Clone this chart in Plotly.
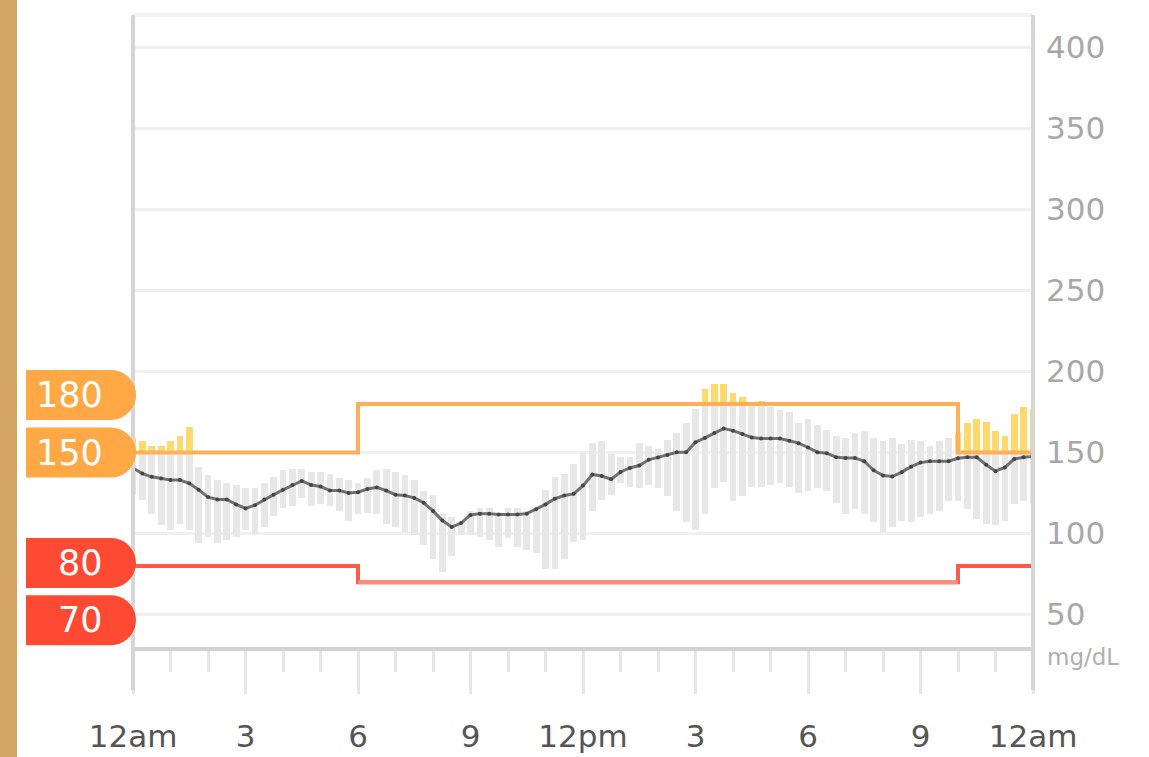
import numpy as np
import plotly.graph_objects as go

# ---------------- data ----------------
# 15-minute slots over one day (hours from midnight)
slot_hours = [i * 0.25 for i in range(97)]

median = [140.5, 137, 135, 134, 133, 133, 131, 127, 122.5, 121,
          121, 118, 115.5, 117.5, 121, 124, 127, 130, 132.5, 130,
          129, 126.5, 126.5, 125, 125.5, 127.5, 128.5, 126.5, 124, 123.5,
          122, 119, 114, 108, 104, 106.5, 111.5, 112.3, 112.3, 111.7,
          111.7, 111.7, 112.3, 115, 118, 121.5, 123.5, 124.5, 129.6, 136.5,
          135.5, 133.5, 138, 140.5, 142, 145.5, 147, 148.5, 150.2, 150.2,
          156.4, 159, 162, 164.8, 163.5, 161.5, 159.3, 158.6, 158.6, 158.6,
          157.3, 155.8, 153.1, 150.2, 149.6, 147.1, 146.7, 146.7, 144.6, 139,
          135.8, 135.2, 137.9, 141.3, 143.8, 144.6, 144.6, 144.6, 146.5, 147.1,
          147.1, 142.5, 138.5, 140.8, 146, 147.1, 147.5]

low = [124, 121, 112, 105, 102, 106, 102, 94, 98, 94,
       96, 98, 102, 100, 104, 111, 116, 117, 122, 117,
       118, 117, 114, 108, 112, 113, 112, 106, 104, 101,
       99, 93, 84, 76, 86, 99, 99, 98, 96, 92,
       97, 92, 90, 88, 78, 78, 84, 95, 96, 114,
       121, 124, 131, 129, 128, 130, 128, 123, 114, 107,
       102, 112, 128, 132, 120, 123, 129, 129, 130, 131,
       129, 125, 126, 128, 126, 119, 112, 115, 112, 107,
       101, 104, 108, 107, 110, 112, 114, 120, 120, 115,
       109, 106, 105, 108, 118, 120, 118]

high = [159, 157, 154, 154, 157, 160, 166, 141, 136, 133,
        131, 130, 128, 128, 131, 135, 139, 140, 140, 138,
        138, 137, 134, 133, 131, 134, 139, 140, 138, 136,
        133, 126, 124, 112, 110, 108, 114, 116, 116, 113,
        116, 116, 114, 114, 127, 135, 137, 143, 150, 156,
        157, 149, 147, 147, 156, 154, 152, 158, 162, 168,
        177, 189, 192, 192, 187, 184, 179, 182, 178, 176,
        175, 168, 171, 167, 164, 160, 159, 162, 163, 159,
        157, 159, 155, 158, 157, 154, 157, 159, 162, 168,
        171, 169, 163, 160, 174, 178, 177]

target_hours = [0, 6, 22, 24]
upper_target = [150, 180, 150, 150]
lower_target = [80, 70, 80, 80]

xtick_vals = [0, 3, 6, 9, 12, 15, 18, 21, 24]
xtick_text = ["12am", "3", "6", "9", "12pm", "3", "6", "9", "12am"]
ytick_vals = [50, 100, 150, 200, 250, 300, 350, 400]
unit_label = "mg/dL"
y_range = [30, 420]

# ---------------- layout constants ----------------
W, H = 1149, 757
ML, MR, MT, MB = 133, 116, 15, 110
PW, PH = W - ML - MR, H - MT - MB

ORANGE_LINE = "#ffaf58"
ORANGE_PILL = "#ffa845"
RED_LINE = "#ff5a48"
RED_LINE_LIGHT = "#ff8b7d"
RED_PILL = "#ff4a33"
YELLOW = "#ffd96b"
GRAY_BAR = "#e7e7e7"


def target_at(h, hours, vals):
    idx = 0
    for k, th in enumerate(hours[:-1]):
        if h >= th:
            idx = k
    return vals[idx]


ut = [target_at(h, target_hours, upper_target) for h in slot_hours]

gray_base = low
gray_len = [min(hi, u) - lo for lo, hi, u in zip(low, high, ut)]
yel_base = [u for u in ut]
yel_len = [(hi - u) if hi > u else 0 for hi, u in zip(high, ut)]

fig = go.Figure()

bar_w = 0.18
fig.add_trace(go.Bar(x=slot_hours, y=gray_len, base=gray_base, width=bar_w,
                     marker=dict(color=GRAY_BAR, line=dict(width=0)),
                     hoverinfo="skip", showlegend=False))
fig.add_trace(go.Bar(x=slot_hours, y=yel_len, base=yel_base, width=bar_w,
                     marker=dict(color=YELLOW, line=dict(width=0)),
                     hoverinfo="skip", showlegend=False))

# target lines
fig.add_trace(go.Scatter(x=target_hours, y=upper_target, mode="lines",
                         line=dict(color=ORANGE_LINE, width=4, shape="hv"),
                         hoverinfo="skip", showlegend=False))
fig.add_trace(go.Scatter(x=target_hours, y=lower_target, mode="lines",
                         line=dict(color=RED_LINE, width=4, shape="hv"),
                         hoverinfo="skip", showlegend=False))
# lighter overlay on the lower (70) segment
for k in range(len(target_hours) - 1):
    if lower_target[k] < max(lower_target):
        fig.add_trace(go.Scatter(x=[target_hours[k], target_hours[k + 1]],
                                 y=[lower_target[k], lower_target[k]], mode="lines",
                                 line=dict(color=RED_LINE_LIGHT, width=4),
                                 hoverinfo="skip", showlegend=False))

# median line
fig.add_trace(go.Scatter(x=slot_hours, y=median, mode="lines+markers",
                         line=dict(color="#707070", width=3),
                         marker=dict(color="#454545", size=4),
                         hoverinfo="skip", showlegend=False))

shapes = []
# brown strip on the left edge
shapes.append(dict(type="rect", xref="paper", yref="paper",
                   x0=-ML / PW, x1=(17 - ML) / PW, y0=-MB / PH, y1=1 + MT / PH,
                   fillcolor="#d4a563", line=dict(width=0), layer="below"))
# top border
shapes.append(dict(type="line", xref="paper", yref="paper", x0=0, x1=1, y0=1, y1=1,
                   line=dict(color="#f2f2f2", width=4), layer="below"))
# left/right vertical frame lines extending below axis
ext = 43 / PH
for xp in (0, 1):
    shapes.append(dict(type="line", xref="paper", yref="paper", x0=xp, x1=xp,
                       y0=-ext, y1=1, line=dict(color="#d6d6d6", width=4), layer="above"))


# pills for target labels
def pill_path(x_left, x_right, half_h, off):
    r = half_h
    cx = x_right - r
    pts = [(x_left, -half_h + off), (cx, -half_h + off)]
    for a in np.linspace(-np.pi / 2, np.pi / 2, 19):
        pts.append((cx + r * np.cos(a), r * np.sin(a) + off))
    pts.append((cx, half_h + off))
    pts.append((x_left, half_h + off))
    return "M " + " L ".join(f"{x:.2f},{y:.2f}" for x, y in pts) + " Z"


pill_labels = [(180, ORANGE_PILL, 9), (150, ORANGE_PILL, 0),
               (80, RED_PILL, 3), (70, RED_PILL, -38)]
annotations = []
for val, col, off in pill_labels:
    shapes.append(dict(type="path", xref="paper", xsizemode="pixel", xanchor=0,
                       yref="y", ysizemode="pixel", yanchor=val,
                       path=pill_path(-107, 3, 25, off),
                       fillcolor=col, line=dict(width=0), layer="above"))
    annotations.append(dict(x=0, xref="paper", xanchor="right", xshift=-28,
                            y=val, yref="y", yanchor="middle", yshift=off,
                            text=str(val), showarrow=False,
                            font=dict(color="white", size=35, family="DejaVu Sans")))

annotations.append(dict(x=1, xref="paper", xanchor="left", xshift=12,
                        y=0, yref="paper", yanchor="middle", yshift=-10,
                        text=unit_label, showarrow=False,
                        font=dict(color="#b0b0b0", size=23, family="DejaVu Sans")))

fig.update_layout(
    width=W, height=H,
    margin=dict(l=ML, r=MR, t=MT, b=MB, pad=0, autoexpand=False),
    paper_bgcolor="white", plot_bgcolor="white",
    barmode="overlay", bargap=0,
    showlegend=False,
    shapes=shapes, annotations=annotations,
    font=dict(family="DejaVu Sans"),
)
fig.update_xaxes(range=[0, 24], tickvals=xtick_vals, ticktext=xtick_text,
                 automargin=False,
                 showgrid=False, zeroline=False,
                 showline=True, linecolor="#d2d2d2", linewidth=4,
                 ticks="outside", ticklen=43, tickwidth=3, tickcolor="#e6e6e6",
                 ticklabelstandoff=16,
                 tickfont=dict(size=31, color="#555555", family="DejaVu Sans"),
                 minor=dict(dtick=1, tick0=0, ticks="outside", ticklen=21,
                            tickwidth=3, tickcolor="#e6e6e6", showgrid=False))
fig.update_yaxes(range=y_range, tickvals=ytick_vals, side="right",
                 automargin=False,
                 showgrid=True, gridcolor="#f0f0f0", gridwidth=3,
                 zeroline=False, showline=False, ticks="",
                 ticklabelstandoff=12,
                 tickfont=dict(size=31, color="#a8a8a8", family="DejaVu Sans"))

fig.write_html("out.html", config={"displayModeBar": False},
               post_script="document.body.style.margin='0';document.body.style.overflow='hidden';")
